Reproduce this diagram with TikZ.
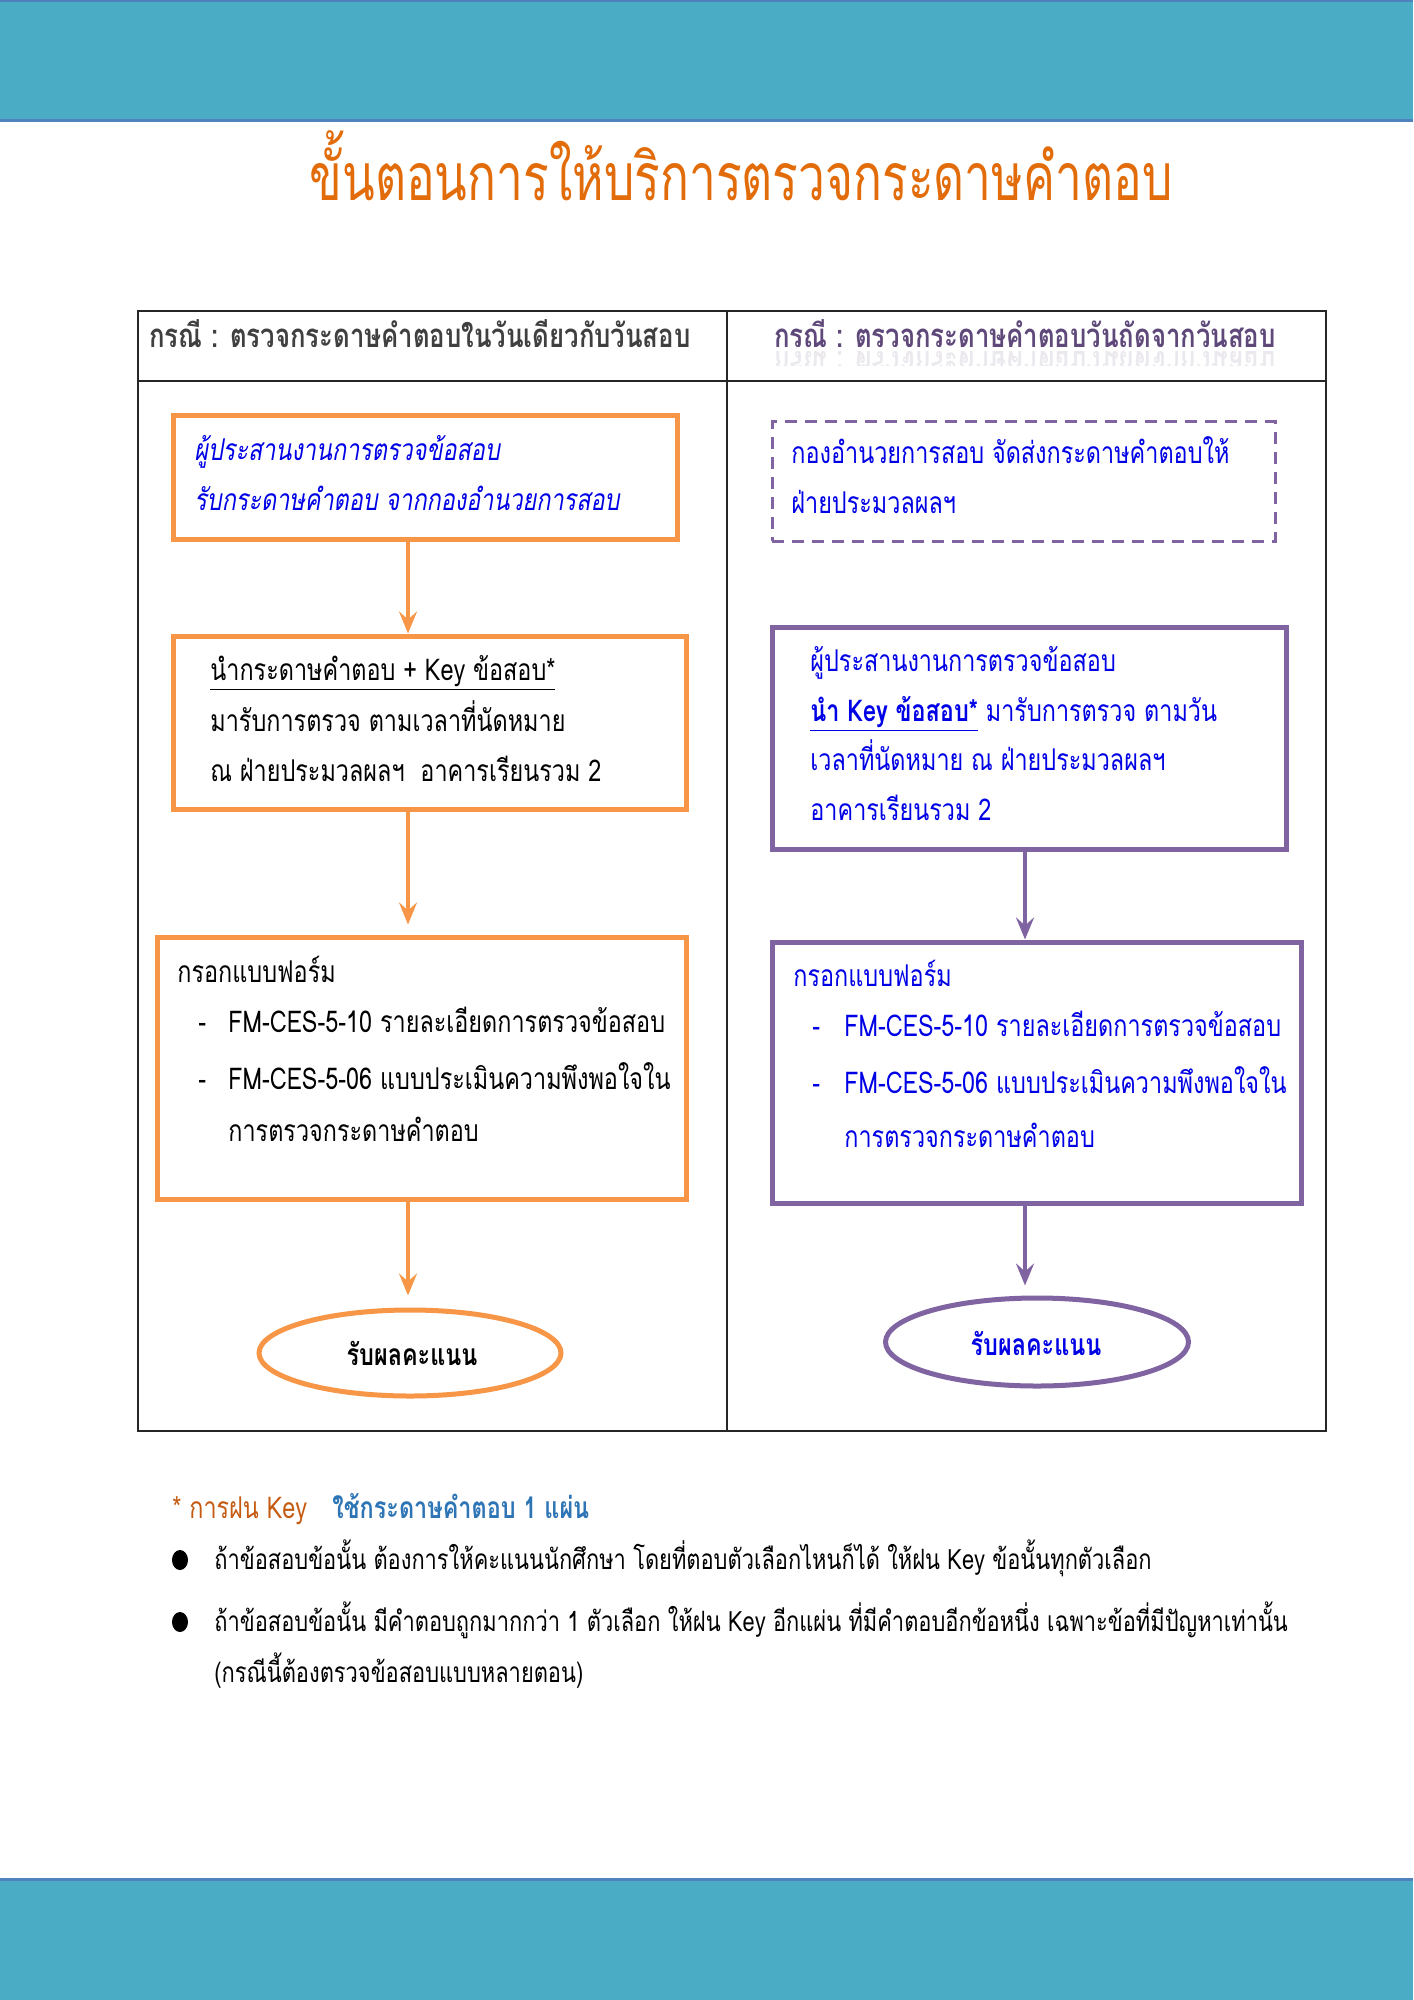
\documentclass[tikz,border=0pt]{standalone}
\usepackage{fontspec}
\usepackage{graphicx}
\setmainfont[Script=Thai, FakeStretch=0.78]{Loma}
\usetikzlibrary{arrows.meta,shapes.geometric}
\definecolor{band}{HTML}{4BACC6}
\definecolor{bandedge}{HTML}{4F81BD}
\definecolor{oline}{HTML}{F79646}
\definecolor{pline}{HTML}{8064A2}
\definecolor{ttl}{HTML}{E36C0A}
\definecolor{hgray}{HTML}{404040}
\definecolor{hpurp}{HTML}{5F497A}
\definecolor{tblue}{HTML}{0000E6}
\definecolor{fnor}{HTML}{C55A11}
\definecolor{fnblue}{HTML}{2E75B6}
\begin{document}
\begin{tikzpicture}[x=0.5pt,y=-0.5pt,
  txt/.style={anchor=base west, inner sep=0pt, font=\fontsize{15pt}{18pt}\selectfont},
  ftxt/.style={anchor=base west, inner sep=0pt, font=\fontsize{14pt}{17pt}\selectfont},
  hdr/.style={anchor=base west, inner sep=0pt, font=\fontsize{16.5pt}{20pt}\selectfont\bfseries},
  obox/.style={draw=oline, line width=2.5pt, rectangle, inner sep=0pt},
  pbox/.style={draw=pline, line width=2.5pt, rectangle, inner sep=0pt},
  pdash/.style={draw=pline, line width=1.5pt, dash pattern=on 6pt off 4pt, rectangle, inner sep=0pt},
  oell/.style={draw=oline, line width=2.5pt, ellipse, inner sep=0pt},
  pell/.style={draw=pline, line width=2.5pt, ellipse, inner sep=0pt},
  oarr/.style={draw=oline, line width=2pt, -{Stealth[length=11pt,width=9pt,inset=4pt]}},
  parr/.style={draw=pline, line width=2pt, -{Stealth[length=11pt,width=9pt,inset=4pt]}}]
\useasboundingbox (0,0) rectangle (1413,2000);
\fill[white] (0,0) rectangle (1413,2000);
% bands
\fill[band] (0,0) rectangle (1413,122);
\draw[bandedge, line width=1.5pt] (0,1) -- (1413,1);
\draw[bandedge, line width=1.5pt] (0,121) -- (1413,121);
\fill[band] (0,1878) rectangle (1413,2000);
\draw[bandedge, line width=1.5pt] (0,1879) -- (1413,1879);
% title
\node[anchor=base, inner sep=0pt, text=ttl, font=\fontsize{33pt}{36pt}\selectfont] (title) at (741,201) {\scalebox{0.93}[1]{ขั้นตอนการให้บริการตรวจกระดาษคำตอบ}};
% table
\draw[line width=0.75pt, black!85] (138,311) rectangle (1326,1431);
\draw[line width=0.75pt, black!85] (138,381) -- (1326,381);
\draw[line width=0.75pt, black!85] (727,311) -- (727,1431);
\node[hdr, text=hgray] (hl) at (149,348) {กรณี : ตรวจกระดาษคำตอบในวันเดียวกับวันสอบ};
\begin{scope}
\clip (760,352) rectangle (1320,366);
\node[hdr, text=hpurp, opacity=0.12] (hrr) at (774,352) {\scalebox{1}[-1]{กรณี : ตรวจกระดาษคำตอบวันถัดจากวันสอบ}};
\end{scope}
\node[hdr, text=hpurp] (hr) at (774,348) {กรณี : ตรวจกระดาษคำตอบวันถัดจากวันสอบ};
% left column boxes
\node[obox, minimum width=252pt, minimum height=61.5pt] (L1) at (425,477.5) {};
\node[obox, minimum width=256.5pt, minimum height=86.5pt] (L2) at (429.5,722.5) {};
\node[obox, minimum width=264.5pt, minimum height=131pt] (L3) at (421.5,1068) {};
\node[oell, minimum width=151pt, minimum height=43pt] (LE) at (410,1353) {};
% right column boxes
\node[pdash, minimum width=251.5pt, minimum height=59.5pt] (R1) at (1023.5,481.5) {};
\node[pbox, minimum width=257pt, minimum height=111pt] (R2) at (1029,738) {};
\node[pbox, minimum width=264.5pt, minimum height=130.5pt] (R3) at (1036.5,1072.5) {};
\node[pell, minimum width=151.5pt, minimum height=44pt] (RE) at (1037,1342) {};
% left texts
\node[txt, text=tblue, font=\fontsize{15pt}{18pt}\selectfont\itshape] (l1a) at (194,460) {ผู้ประสานงานการตรวจข้อสอบ};
\node[txt, text=tblue, font=\fontsize{15pt}{18pt}\selectfont\itshape] (l1b) at (194,510) {รับกระดาษคำตอบ จากกองอำนวยการสอบ};
\node[txt] (l2a) at (210,680) {\underline{นำกระดาษคำตอบ + Key ข้อสอบ*}};
\node[txt] (l2b) at (210,731) {มารับการตรวจ ตามเวลาที่นัดหมาย};
\node[txt] (l2c) at (210,781) {ณ ฝ่ายประมวลผลฯ~~อาคารเรียนรวม 2};
\node[txt] (l3a) at (177,982) {กรอกแบบฟอร์ม};
\node[txt] (l3d1) at (198,1032) {-};
\node[txt] (l3b) at (228,1032) {FM-CES-5-10 รายละเอียดการตรวจข้อสอบ};
\node[txt] (l3d2) at (198,1089) {-};
\node[txt] (l3c) at (228,1089) {FM-CES-5-06 แบบประเมินความพึงพอใจใน};
\node[txt] (l3e) at (228,1141) {การตรวจกระดาษคำตอบ};
\node[inner sep=0pt, font=\fontsize{15pt}{18pt}\selectfont\bfseries] (let) at (412,1353) {รับผลคะแนน};
% right texts
\node[txt, text=tblue] (r1a) at (791,464) {กองอำนวยการสอบ จัดส่งกระดาษคำตอบให้};
\node[txt, text=tblue] (r1b) at (791,513) {ฝ่ายประมวลผลฯ};
\node[txt, text=tblue] (r2a) at (810,671) {ผู้ประสานงานการตรวจข้อสอบ};
\node[txt, text=tblue] (r2b) at (810,721) {\underline{\bfseries นำ Key ข้อสอบ*} มารับการตรวจ ตามวัน};
\node[txt, text=tblue] (r2c) at (810,770) {เวลาที่นัดหมาย ณ ฝ่ายประมวลผลฯ};
\node[txt, text=tblue] (r2d) at (810,820) {อาคารเรียนรวม 2};
\node[txt, text=tblue] (r3a) at (793,986) {กรอกแบบฟอร์ม};
\node[txt, text=tblue] (r3d1) at (812,1036) {-};
\node[txt, text=tblue] (r3b) at (844,1036) {FM-CES-5-10 รายละเอียดการตรวจข้อสอบ};
\node[txt, text=tblue] (r3d2) at (812,1093) {-};
\node[txt, text=tblue] (r3c) at (844,1093) {FM-CES-5-06 แบบประเมินความพึงพอใจใน};
\node[txt, text=tblue] (r3e) at (844,1147) {การตรวจกระดาษคำตอบ};
\node[inner sep=0pt, text=tblue, font=\fontsize{15pt}{18pt}\selectfont\bfseries] (ret) at (1036,1343) {รับผลคะแนน};
% connectors
\coordinate (lx) at (408,0);
\coordinate (rx) at (1025,0);
\draw[oarr] (L1.south -| lx) -- (L2.north -| lx);
\draw[oarr] (L2.south -| lx) -- ([yshift=5pt]L3.north -| lx);
\draw[oarr] (L3.south -| lx) -- ([yshift=6pt]LE.north -| lx);
\draw[parr] (R2.south -| rx) -- (R3.north -| rx);
\draw[parr] (R3.south -| rx) -- ([yshift=5pt]RE.north -| rx);
% footnote
\node[txt, text=fnor] (fn1) at (172,1518) {* การฝน Key};
\node[txt, text=fnblue, font=\fontsize{15pt}{18pt}\selectfont\bfseries] (fn2) at (332,1518) {ใช้กระดาษคำตอบ 1 แผ่น};
\fill[black] (180,1560) ellipse (4pt and 5pt);
\fill[black] (180,1622) ellipse (4pt and 5pt);
\node[ftxt] (b1) at (214,1569) {ถ้าข้อสอบข้อนั้น ต้องการให้คะแนนนักศึกษา โดยที่ตอบตัวเลือกไหนก็ได้ ให้ฝน Key ข้อนั้นทุกตัวเลือก};
\node[ftxt] (b2) at (214,1631) {ถ้าข้อสอบข้อนั้น มีคำตอบถูกมากกว่า 1 ตัวเลือก ให้ฝน Key อีกแผ่น ที่มีคำตอบอีกข้อหนึ่ง เฉพาะข้อที่มีปัญหาเท่านั้น};
\node[ftxt] (b3) at (214,1682) {(กรณีนี้ต้องตรวจข้อสอบแบบหลายตอน)};
\end{tikzpicture}
\end{document}
